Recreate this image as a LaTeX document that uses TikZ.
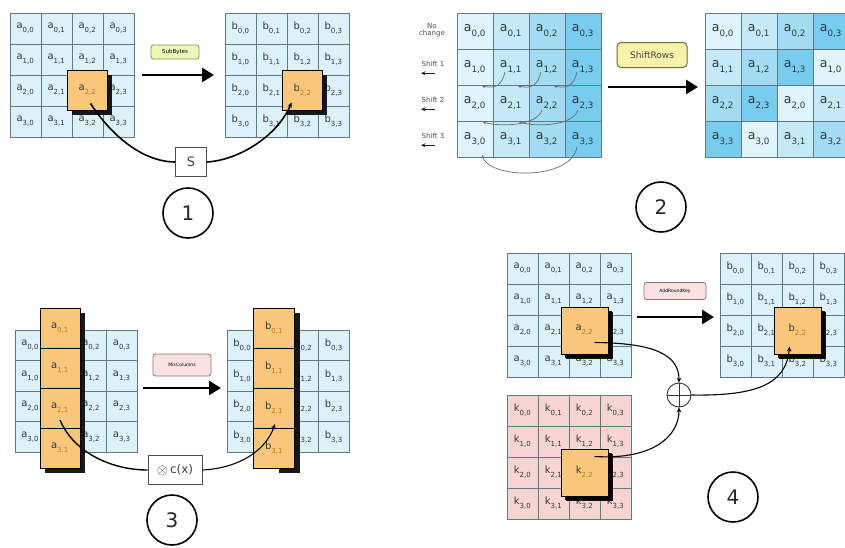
\documentclass[tikz,border=0pt]{standalone}
\usepackage{fontspec}
\setmainfont{DejaVu Sans}
\usetikzlibrary{arrows.meta,calc,shadows}

\definecolor{cellbg}{HTML}{DDF1F9}
\definecolor{gridln}{HTML}{5E7A88}
\definecolor{celltx}{HTML}{2E3840}
\definecolor{orangebox}{HTML}{F9C77A}
\definecolor{suborange}{HTML}{B7791F}
\definecolor{keybg}{HTML}{F8D5D0}
\definecolor{colA}{HTML}{E0F4FB}
\definecolor{colB}{HTML}{C4EAF8}
\definecolor{colC}{HTML}{A3DCF2}
\definecolor{colD}{HTML}{78CDEE}
\definecolor{subfill}{HTML}{EAF7B6}
\definecolor{subdraw}{HTML}{7F9A45}
\definecolor{srfill}{HTML}{F8F3A8}
\definecolor{srdraw}{HTML}{6E6A30}
\definecolor{mixfill}{HTML}{FBE1E0}
\definecolor{mixdraw}{HTML}{9A7070}
\definecolor{shiftgray}{HTML}{6A6A6A}

\newcommand{\cellfont}{\fontsize{10}{11}\selectfont}
\newcommand{\bigcellfont}{\fontsize{12.5}{13}\selectfont}
% lowered index of a state entry
\newcommand{\ix}[1]{\raisebox{-0.4ex}{\textsubscript{#1}}}
% a 4x4 state grid: name, left, top, cell size, letter, fill colour, hidden-cell test
\newcommand{\stategrid}[7]{%
  \foreach \r in {0,...,3}{\foreach \c in {0,...,3}{
    \pgfmathtruncatemacro{\hide}{#7}
    \node[cell,minimum size=#4pt,fill=#6] (#1-\r\c)
      at ({#2+#4*(\c+0.5)},{#3+#4*(\r+0.5)}) {\ifnum\hide=0 #5\ix{\r,\c}\fi};
  }}}
\newcommand{\hotentry}[1]{#1\ix{\textcolor{suborange}{2,2}}}

\begin{document}
\begin{tikzpicture}[x=1pt,y=-1pt,
  cell/.style={draw=gridln,line width=0.6pt,inner sep=0pt,text=celltx,font=\cellfont},
  hot/.style={draw=black,line width=0.8pt,fill=orangebox,inner sep=0pt,text=celltx,
    font=\cellfont,drop shadow={shadow xshift=4pt,shadow yshift=-4pt,fill=black,opacity=0.9}},
  bighot/.style={hot,minimum size=47pt,
    drop shadow={shadow xshift=5pt,shadow yshift=-5pt,fill=black,opacity=0.9}},
  colhot/.style={draw=black,line width=0.8pt,fill=orangebox,inner sep=0pt,text=celltx,
    font=\cellfont,minimum width=40pt,minimum height=40pt},
  opname/.style={draw,rounded corners=2.5pt,line width=0.8pt,inner sep=2pt},
  bigarrow/.style={line width=2.8pt,-{Triangle[length=12pt,width=14pt]}},
  flow/.style={line width=1.6pt,-{Stealth[length=5pt,width=4.5pt]}},
  thinflow/.style={line width=1.1pt,-{Stealth[length=5pt,width=4.5pt]}},
  shiftarc/.style={draw=shiftgray,line width=0.7pt,-{Stealth[length=3pt,width=3pt]}},
  stepno/.style={circle,draw,line width=1.6pt,minimum size=50pt,inner sep=0pt,
    text=black!85,font=\fontsize{20}{20}\selectfont},
  rowlabel/.style={text=black!70,font=\fontsize{7}{7.5}\selectfont,align=center}
]
\useasboundingbox[fill=white] (0,0) rectangle (845,547);

% ---------------- SubBytes ----------------
\stategrid{sba}{10}{13}{31}{a}{cellbg}{\r==2 && \c==2}
\stategrid{sbb}{225}{13}{31}{b}{cellbg}{\r==2 && \c==2}
\node[hot,minimum size=40pt] (sbhotA) at (sba-22) {\hotentry{a}};
\node[hot,minimum size=40pt] (sbhotB) at (sbb-22) {\hotentry{b}};
\node[opname,fill=subfill,draw=subdraw,font=\fontsize{5.5}{6}\selectfont,
  minimum width=48pt,minimum height=14pt] (sbname) at (175,52) {SubBytes};
\coordinate (sbfrom) at (142,75);
\coordinate (sbto) at (214,75);
\draw[bigarrow] (sbfrom) -- (sbto);
\node[draw=black!70,fill=white,line width=0.8pt,minimum width=31pt,minimum height=29pt,
  font=\fontsize{13}{13}\selectfont,text=black!75] (sbox) at (191,162) {S};
\draw[line width=1.6pt] ($(sbhotA.center)+(3,13)$) .. controls (118,145) and (150,162) .. (sbox.west);
\draw[flow] (sbox.east) .. controls (240,160) and (278,135) .. ($(sbhotB.center)+(-11,12)$);
\node[stepno] (step1) at (188,213) {1};

% ---------------- ShiftRows ----------------
\foreach \r in {0,...,3}{\foreach \c/\col in {0/colA,1/colB,2/colC,3/colD}{
  \node[cell,minimum size=36pt,fill=\col,font=\bigcellfont] (srl-\r\c)
    at ({457+36*(\c+0.5)},{13+36*(\r+0.5)}) {a\ix{\r,\c}};
}}
\foreach \r in {0,...,3}{\foreach \c in {0,...,3}{
  \pgfmathtruncatemacro{\k}{mod(\c+\r,4)}
  \ifcase\k \def\col{colA}\or \def\col{colB}\or \def\col{colC}\or \def\col{colD}\fi
  \node[cell,minimum size=36pt,fill=\col,font=\bigcellfont] (srr-\r\c)
    at ({705+36*(\c+0.5)},{13+36*(\r+0.5)}) {a\ix{\r,\k}};
}}
\node[rowlabel] (lbl0) at (432,30) {No\\[-1pt]change};
\foreach \r/\n in {1/1,2/2,3/3}{
  \node[rowlabel] (lbl\r) at ({433},{13+36*\r+15}) {Shift \n};
  \draw[line width=1pt,black!85,-{Stealth[length=4.5pt,width=4pt]}]
    ($(lbl\r.south)+(2,3)$) -- ($(lbl\r.south)+(-12,3)$);
}
% row 1 moves one place left
\foreach \c/\p in {1/0,2/1,3/2}{
  \draw[shiftarc] ($(srl-1\c)+(-6,5)$) .. controls ($(srl-1\c)+(-9,17)$) and ($(srl-1\p)+(22,22)$) .. ($(srl-1\p)+(7,19)$);
}
% row 2 moves two places left
\foreach \c/\p in {2/0,3/1}{
  \draw[shiftarc] ($(srl-2\c)+(-5,7)$) .. controls ($(srl-2\c)+(-10,23)$) and ($(srl-2\p)+(25,24)$) .. ($(srl-2\p)+(8,19)$);
}
% row 3 moves three places left
\draw[shiftarc] ($(srl-33)+(-6,8)$) .. controls ($(srl-33)+(-12,42)$) and ($(srl-30)+(14,40)$) .. ($(srl-30)+(7,16)$);
\node[opname,fill=srfill,draw=srdraw,line width=1pt,rounded corners=4pt,
  font=\fontsize{9}{10}\selectfont,minimum width=70pt,minimum height=25pt,text=black!75] (srname) at (652,55) {ShiftRows};
\coordinate (srfrom) at (608,87);
\coordinate (srto) at (698,87);
\draw[bigarrow] (srfrom) -- (srto);
\node[stepno] (step2) at (661,207) {2};

% ---------------- MixColumns ----------------
\stategrid{mca}{15}{330}{30.5}{a}{cellbg}{\c==1}
\stategrid{mcb}{227}{330}{30.5}{b}{cellbg}{\c==1}
\fill[black,opacity=0.9] (45,313) rectangle (85,473);
\fill[black,opacity=0.9] (279,313) rectangle (300,473);
\foreach \r in {0,...,3}{
  \node[colhot] (mccolA-\r) at (60,{328+40*\r}) {a\ix{\textcolor{suborange}{\r,1}}};
  \node[colhot,minimum width=41pt] (mccolB-\r) at (274,{328+40*\r}) {b\ix{\textcolor{suborange}{\r,1}}};
}
\node[opname,fill=mixfill,draw=mixdraw,font=\fontsize{4.5}{5}\selectfont,
  minimum width=58pt,minimum height=22pt] (mcname) at (182,365) {MixColumns};
\coordinate (mcfrom) at (143,388);
\coordinate (mcto) at (221,388);
\draw[bigarrow] (mcfrom) -- (mcto);
\node[draw=black!70,fill=white,line width=0.8pt,minimum width=54pt,minimum height=29pt,
  font=\fontsize{12}{12}\selectfont,text=black!75,inner sep=1pt] (cbox) at (175,470)
  {\raisebox{-0.5pt}{\fontsize{15}{15}\selectfont$\otimes$}\,c(x)};
\draw[line width=1.4pt] ($(mccolA-2)+(0,12)$) .. controls (75,455) and (115,470) .. (cbox.west);
\draw[thinflow] (cbox.east) .. controls (240,468) and (266,450) .. ($(mccolB-2)+(1,16)$);
\node[stepno] (step3) at (172,520) {3};

% ---------------- AddRoundKey ----------------
\stategrid{arka}{507}{253}{31}{a}{cellbg}{\r==2 && \c==2}
\stategrid{arkb}{720}{253}{31}{b}{cellbg}{\r==2 && \c==2}
\stategrid{arkk}{507}{395}{31}{k}{keybg}{\r==2 && \c==2}
\node[bighot] (arkhotA) at (arka-22) {\hotentry{a}};
\node[bighot] (arkhotB) at (arkb-22) {\hotentry{b}};
\node[bighot] (arkhotK) at (arkk-22) {\hotentry{k}};
\node[opname,fill=mixfill,draw=mixdraw,font=\fontsize{4.5}{5}\selectfont,
  minimum width=62pt,minimum height=17pt] (arkname) at (675,291) {AddRoundKey};
\coordinate (arkfrom) at (637,317);
\coordinate (arkto) at (714,317);
\draw[bigarrow] (arkfrom) -- (arkto);
\node[circle,draw=black!80,line width=0.9pt,minimum size=24pt,inner sep=0pt] (xor) at (679,395) {};
\draw[black!80,line width=0.9pt] (xor.north) -- (xor.south) (xor.west) -- (xor.east);
\draw[thinflow] ($(arkhotA.center)+(10,12)$) .. controls (655,343) and (679,355) .. (xor.north);
\draw[thinflow] ($(arkhotK.center)+(10,-16)$) .. controls (655,460) and (679,435) .. (xor.south);
\draw[thinflow] (xor.east) .. controls (755,396) and (786,385) .. ($(arkhotB.center)+(-8,16)$);
\node[stepno] (step4) at (733,497) {4};
\end{tikzpicture}
\end{document}
